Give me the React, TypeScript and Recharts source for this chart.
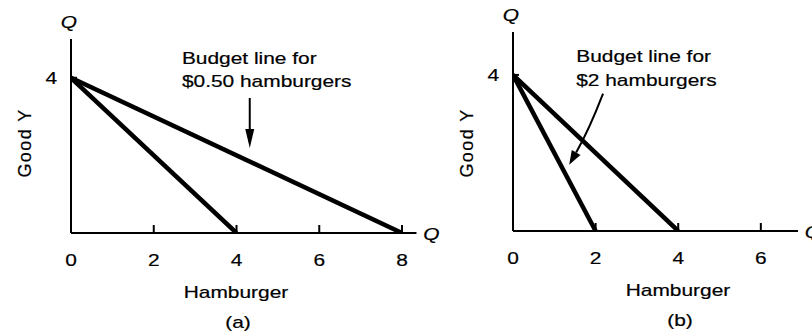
import { LineChart, Line, XAxis, YAxis, ReferenceLine, ReferenceDot } from 'recharts'

const FONT = '"Liberation Sans", Arial, Helvetica, sans-serif'

// (a) hamburger price falls: budget line pivots out from 4 to 8
const budgetA1 = [{ x: 0, y: 4 }, { x: 4, y: 0 }]
const budgetA2 = [{ x: 0, y: 4 }, { x: 8, y: 0 }]
const xTicksA = [0, 2, 4, 6, 8]

// (b) hamburger price rises: budget line pivots in from 4 to 2
const budgetB1 = [{ x: 0, y: 4 }, { x: 2, y: 0 }]
const budgetB2 = [{ x: 0, y: 4 }, { x: 4, y: 0 }]
const xTicksB = [0, 2, 4, 6]

const yTicks = [4]

const noteA = ['Budget line for', '$0.50 hamburgers']
const noteB = ['Budget line for', '$2 hamburgers']
const noteAnchorA = { x: 2.68, y: 4.36 }
const noteAnchorB = { x: 1.53, y: 4.33 }
const arrowA = [{ x: 4.32, y: 3.48 }, { x: 4.32, y: 2.19 }]
const arrowB = [{ x: 2.18, y: 3.52 }, { x: 1.36, y: 1.7 }]

// the scan is a little wider than tall, so text gets stretched sideways
const STRETCH = 1.23
const textStyle = { fontFamily: FONT, fontSize: 17, fill: '#000', stroke: '#000', strokeWidth: 0.2 }

function SText({ x, y, anchor = 'start', italic = false, children }: any) {
  return (
    <text
      x={0}
      y={0}
      transform={`translate(${x} ${y}) scale(${STRETCH} 1)`}
      textAnchor={anchor}
      style={{ ...textStyle, fontStyle: italic ? 'italic' : 'normal' }}
    >
      {children}
    </text>
  )
}

function Arrow({ x1, y1, x2, y2, bend = 0, head = 18, halfW = 4.5 }: any) {
  const a0 = Math.atan2(y2 - y1, x2 - x1)
  const mx = (x1 + x2) / 2 - Math.sin(a0) * bend
  const my = (y1 + y2) / 2 + Math.cos(a0) * bend
  const a = Math.atan2(y2 - my, x2 - mx)
  const bx = x2 - head * Math.cos(a)
  const by = y2 - head * Math.sin(a)
  const px = -Math.sin(a) * halfW
  const py = Math.cos(a) * halfW
  return (
    <g>
      <path d={`M${x1},${y1} Q${mx},${my} ${bx},${by}`} stroke="#000" strokeWidth={2} fill="none" />
      <polygon points={`${x2},${y2} ${bx + px},${by + py} ${bx - px},${by - py}`} fill="#000" />
    </g>
  )
}

function Note({ cx, cy, lines }: any) {
  return (
    <g>
      {lines.map((t: string, i: number) => (
        <SText key={i} x={cx} y={cy + i * 23.5}>
          {t}
        </SText>
      ))}
    </g>
  )
}

function Panel({ left, width, margin, xMax, yMax, ticks, lines, caption, note, noteAt, arrow, bend, head, halfW, goodYOffset }: any) {
  return (
    <div style={{ position: 'absolute', left, top: 0, width, height: 334 }}>
      <LineChart width={width} height={334} margin={margin}>
        <XAxis
          type="number"
          dataKey="x"
          domain={[0, xMax]}
          allowDataOverflow
          ticks={ticks}
          interval={0}
          height={30}
          tickSize={-8}
          tickMargin={28}
          tick={(p: any) => (
            <SText x={p.x} y={p.y + 13} anchor="middle">
              {p.payload.value}
            </SText>
          )}
          tickLine={{ stroke: '#000', strokeWidth: 2 }}
          axisLine={{ stroke: '#000', strokeWidth: 2 }}
          label={(p: any) => {
            const vb = p.viewBox || {}
            return (
              <g>
                <SText x={vb.x + vb.width + 15} y={vb.y + 6.5} anchor="middle" italic>
                  Q
                </SText>
                <SText x={vb.x + 165} y={vb.y + 65} anchor="middle">
                  Hamburger
                </SText>
                <SText x={vb.x + 167} y={vb.y + 95} anchor="middle">
                  {caption}
                </SText>
              </g>
            )
          }}
        />
        <YAxis
          type="number"
          domain={[0, yMax]}
          allowDataOverflow
          ticks={yTicks}
          width={40}
          tickSize={-6}
          tickMargin={20}
          tick={(p: any) => (
            <SText x={p.x} y={p.y + 6.2} anchor="end">
              {p.payload.value}
            </SText>
          )}
          tickLine={{ stroke: '#000', strokeWidth: 2 }}
          axisLine={{ stroke: '#000', strokeWidth: 2 }}
          label={(p: any) => {
            const vb = p.viewBox || {}
            const ax = vb.x + vb.width
            const gy = vb.y + goodYOffset
            return (
              <g>
                <SText x={ax - 2} y={vb.y - 11} anchor="middle" italic>
                  Q
                </SText>
                <text
                  x={ax - 46}
                  y={gy}
                  textAnchor="middle"
                  dominantBaseline="central"
                  transform={`rotate(-90 ${ax - 46} ${gy})`}
                  style={{ ...textStyle, fontSize: 18, letterSpacing: 1.4 }}
                >
                  Good Y
                </text>
              </g>
            )
          }}
        />
        {lines.map((d: any, i: number) => (
          <Line
            key={i}
            data={d}
            dataKey="y"
            type="linear"
            stroke="#000"
            strokeWidth={4.5}
            dot={false}
            activeDot={false}
            isAnimationActive={false}
          />
        ))}
        <ReferenceLine
          segment={arrow}
          shape={(p: any) => <Arrow {...p} bend={bend} head={head} halfW={halfW} />}
        />
        <ReferenceDot
          x={noteAt.x}
          y={noteAt.y}
          r={0}
          shape={(p: any) => <Note cx={p.cx} cy={p.cy} lines={note} />}
        />
      </LineChart>
    </div>
  )
}

export default function App() {
  return (
    <div style={{ position: 'absolute', left: 0, top: 0, width: 812, height: 334, background: '#fff' }}>
      <Panel
        left={0}
        width={450}
        margin={{ top: 39, right: 33.5, bottom: 71, left: 31 }}
        xMax={8.35}
        yMax={5}
        ticks={xTicksA}
        lines={[budgetA1, budgetA2]}
        caption="(a)"
        note={noteA}
        noteAt={noteAnchorA}
        arrow={arrowA}
        bend={0}
        head={19}
        halfW={4.5}
        goodYOffset={104}
      />
      <Panel
        left={440}
        width={372}
        margin={{ top: 32, right: 14, bottom: 73, left: 33 }}
        xMax={6.9}
        yMax={5.1}
        ticks={xTicksB}
        lines={[budgetB1, budgetB2]}
        caption="(b)"
        note={noteB}
        noteAt={noteAnchorB}
        arrow={arrowB}
        bend={-3}
        head={14}
        halfW={5}
        goodYOffset={111}
      />
    </div>
  )
}
